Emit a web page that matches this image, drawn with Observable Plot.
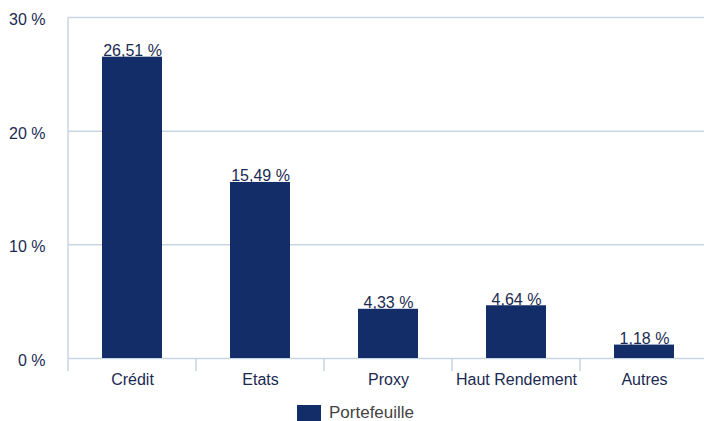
<!DOCTYPE html>
<html>
<head>
<meta charset="utf-8">
<script src="https://cdn.jsdelivr.net/npm/d3@7"></script>
<script src="https://cdn.jsdelivr.net/npm/@observablehq/plot@0.6"></script>
<style>
  html, body { margin: 0; padding: 0; background: #fff; }
  #chart { width: 704px; font-family: "Liberation Sans", Arial, sans-serif; }
  #chart svg { display: block; }
  .legend { display: flex; align-items: center; margin-left: 297px; margin-top: 12px; height: 17px; line-height: 17px; color: #444; font-size: 17px; font-family: "Liberation Sans", Arial, sans-serif; }
  .legend .sw { width: 24px; height: 16px; background: #122d68; margin-right: 8px; }
</style>
</head>
<body>
<div id="chart"></div>
<script>
const categories = ["Crédit", "Etats", "Proxy", "Haut Rendement", "Autres"];
const values = [26.51, 15.49, 4.33, 4.64, 1.18];
const yTicks = [0, 10, 20, 30];

const data = categories.map((c, i) => ({ cat: c, value: values[i] }));
const fmt = v => v.toFixed(2).replace(".", ",") + " %";

const gridColor = "#c9d5e4";
const textColor = "#1b2a52";

const boundaryTicks = (index, scales) => {
  const x = scales.x, y = scales.y;
  const xs = categories.map(c => x(c));
  const step = xs[1] - xs[0];
  let bw = typeof x.bandwidth === "function" ? x.bandwidth() : x.bandwidth;
  if (!(bw >= 0)) bw = step * (1 - 0.53);
  const g = d3.create("svg:g");
  const bounds = categories.map(c => x(c) + bw / 2 - step / 2);
  bounds.push(x(categories[categories.length - 1]) + bw / 2 + step / 2);
  const y0 = y(0);
  bounds.forEach((bx, i) => {
    g.append("line")
      .attr("x1", bx).attr("x2", bx)
      .attr("y1", i === 0 ? y(yTicks[yTicks.length - 1]) : y0)
      .attr("y2", y0 + 13)
      .attr("stroke", gridColor)
      .attr("stroke-width", 1.5);
  });
  return g.node();
};

const chart = Plot.plot({
  width: 704,
  height: 392,
  marginTop: 17,
  marginLeft: 68,
  marginRight: 0,
  marginBottom: 34,
  style: { fontFamily: "'Liberation Sans', Arial, sans-serif", background: "#fff", color: textColor },
  x: { domain: categories, range: [68, 708], paddingInner: 0.53, paddingOuter: 0.265, label: null },
  y: { domain: [0, 30], label: null },
  marks: [
    Plot.ruleY(yTicks, { stroke: gridColor, strokeWidth: 1.5 }),
    boundaryTicks,
    Plot.barY(data, { x: "cat", y: "value", fill: "#122d68" }),
    Plot.text(data, { x: "cat", y: "value", text: d => fmt(d.value), lineAnchor: "bottom", dy: -1, fill: textColor, fontSize: 16 }),
    Plot.axisY({ ticks: yTicks, tickFormat: d => d + " %", tickSize: 0, tickPadding: 23, dy: 2.5, fontSize: 16, fill: textColor, label: null }),
    Plot.axisX({ tickSize: 0, tickPadding: 15, fontSize: 16, fill: textColor, label: null })
  ]
});
document.getElementById("chart").appendChild(chart);
const leg = document.createElement("div");
leg.className = "legend";
leg.innerHTML = '<div class="sw"></div><span>Portefeuille</span>';
document.getElementById("chart").appendChild(leg);
</script>
</body>
</html>
